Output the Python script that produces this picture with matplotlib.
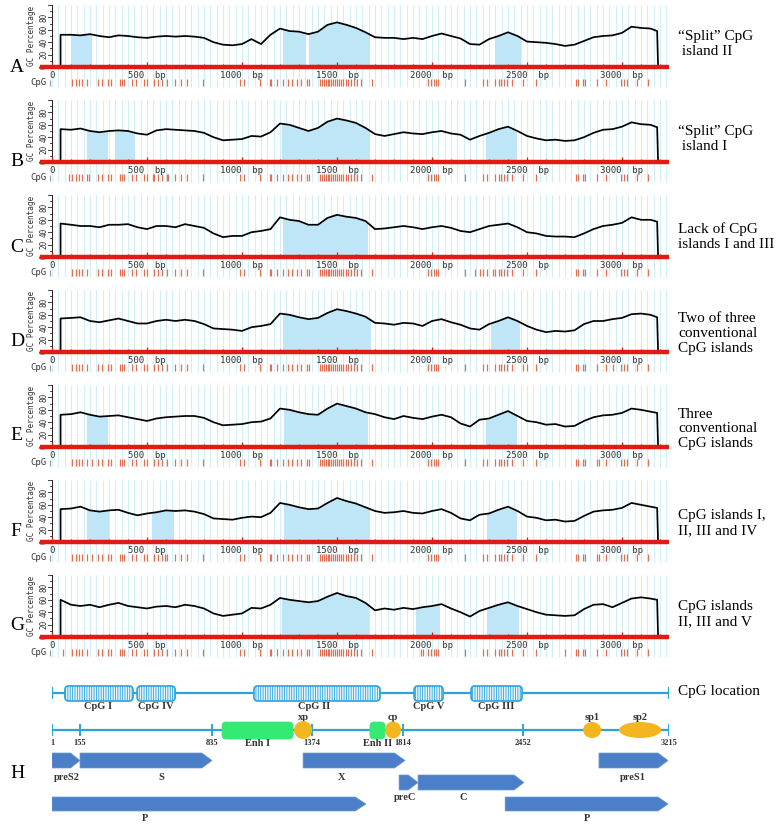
import matplotlib
matplotlib.use('Agg')
import matplotlib.pyplot as plt
import numpy as np
from matplotlib.patches import Rectangle, Ellipse, FancyBboxPatch, Polygon

plt.rcParams['hatch.linewidth'] = 0.6

# ---------------- data ----------------
panels = ['A', 'B', 'C', 'D', 'E', 'F', 'G']

# window centres (bp) of the GC% sliding window
gc_pos = [45] + list(range(100, 3151, 50)) + [3185]

gc_A = [52, 52, 51, 53, 50, 48, 51, 50, 48, 47, 49, 50, 49, 50, 49, 47, 40, 36, 35, 37,
        45, 37, 52, 62, 58, 57, 53, 57, 68, 72, 68, 63, 56, 48, 47, 47, 45, 47, 45, 50,
        54, 50, 46, 37, 36, 45, 50, 56, 50, 41, 40, 39, 37, 34, 36, 42, 48, 50, 51, 55,
        65, 63, 62, 58]
gc_B = [53, 52, 54, 50, 48, 50, 51, 50, 46, 44, 51, 53, 52, 51, 50, 47, 40, 35, 36, 37,
        42, 41, 48, 62, 60, 55, 50, 55, 65, 70, 67, 63, 55, 45, 42, 45, 48, 46, 45, 48,
        50, 46, 44, 36, 42, 47, 53, 57, 50, 42, 38, 35, 36, 34, 35, 40, 47, 52, 53, 57,
        64, 61, 60, 56]
gc_C = [54, 52, 50, 50, 48, 52, 52, 53, 48, 45, 50, 50, 48, 53, 50, 47, 38, 32, 34, 34,
        40, 42, 45, 64, 60, 58, 52, 52, 63, 68, 65, 63, 58, 45, 46, 48, 50, 48, 45, 48,
        50, 47, 42, 40, 45, 50, 52, 54, 48, 40, 38, 34, 33, 33, 32, 38, 45, 50, 52, 55,
        64, 60, 60, 57]
gc_D = [54, 55, 56, 50, 48, 51, 54, 50, 46, 46, 50, 52, 50, 52, 50, 45, 38, 37, 36, 34,
        40, 42, 45, 62, 60, 56, 53, 55, 63, 69, 66, 62, 57, 47, 46, 44, 47, 46, 42, 50,
        53, 48, 44, 38, 36, 45, 50, 56, 50, 42, 36, 32, 34, 33, 35, 45, 50, 50, 53, 55,
        61, 62, 60, 56]
gc_E = [52, 53, 56, 52, 49, 50, 51, 48, 45, 42, 46, 48, 49, 50, 50, 47, 40, 35, 36, 37,
        40, 41, 46, 62, 60, 56, 53, 52, 62, 70, 66, 62, 56, 53, 48, 45, 50, 47, 45, 49,
        52, 48, 38, 33, 44, 46, 52, 58, 50, 42, 40, 36, 37, 33, 34, 42, 48, 51, 52, 55,
        62, 60, 57, 55]
gc_F = [53, 54, 57, 51, 49, 51, 52, 47, 43, 46, 48, 51, 50, 51, 49, 45, 38, 37, 36, 39,
        41, 40, 47, 63, 60, 56, 53, 54, 63, 71, 66, 62, 56, 50, 47, 48, 50, 47, 46, 50,
        53, 47, 38, 35, 44, 46, 52, 57, 50, 41, 39, 35, 36, 33, 34, 42, 49, 51, 52, 55,
        63, 60, 57, 55]
gc_G = [60, 52, 50, 52, 48, 52, 55, 50, 48, 46, 49, 50, 48, 52, 50, 46, 38, 34, 36, 38,
        47, 46, 52, 63, 60, 58, 56, 58, 65, 71, 66, 63, 55, 43, 46, 44, 47, 45, 48, 50,
        53, 46, 40, 33, 42, 47, 52, 56, 50, 45, 40, 36, 35, 34, 35, 45, 52, 53, 48, 55,
        62, 64, 62, 60]
gc_values = [gc_A, gc_B, gc_C, gc_D, gc_E, gc_F, gc_G]

# shaded CpG islands (start, end) in bp
islands = [
    [(100, 205), (1216, 1333), (1350, 1671), (2333, 2462)],
    [(186, 288), (329, 432), (1212, 1667), (2286, 2444)],
    [(1218, 1660)],
    [(1218, 1675), (2308, 2457)],
    [(182, 288), (1222, 1660), (2286, 2444)],
    [(182, 293), (528, 635), (1222, 1667), (2290, 2444)],
    [(1211, 1664), (1917, 2038), (2290, 2451)],
]

# CpG dinucleotide sites (bp)
cpg_common = [107, 124, 141, 160, 182, 244, 265, 293, 308, 357, 368, 378, 421, 442, 485,
              500, 538, 560, 581, 603, 645, 677, 709, 795, 987, 1009, 1094, 1147, 1154,
              1186, 1218, 1244, 1265, 1291, 1308, 1340, 1350, 1410, 1420, 1430, 1440,
              1452, 1460, 1470, 1480, 1492, 1500, 1510, 1520, 1530, 1545, 1560, 1575,
              1590, 1605, 1628, 1682, 1981, 1995, 2008, 2020, 2034, 2173, 2269, 2291,
              2333, 2350, 2365, 2380, 2395, 2419, 2479, 2547, 2756, 2771, 2793, 2803,
              2868, 2915, 2996, 3013, 3028, 3081, 3135]
cpg_extra = [[], [90, 197, 529, 613], [2227, 2250, 2320], [2500, 2950],
             [210, 2880], [210, 595, 2880], [60, 1941, 1955, 2700]]

annotations = ['\u201cSplit\u201d CpG\n island II', '\u201cSplit\u201d CpG\n island I',
               'Lack of CpG\nislands I and III', 'Two of three\nconventional\nCpG islands',
               'Three\nconventional\nCpG islands', 'CpG islands I,\nII, III and IV',
               'CpG islands\nII, III and V']

# panel H
map_ticks = [1, 155, 835, 1374, 1814, 2452, 3215]
cpg_boxes = [('CpG I', 72, 428), ('CpG IV', 449, 645), ('CpG II', 1061, 1703),
             ('CpG V', 1873, 2027), ('CpG III', 2176, 2447)]
enhancers = [('Enh I', 889, 1272), ('Enh II', 1654, 1727)]
promoters = [('xp', 1326, 97, 18), ('cp', 1766, 77, 17), ('sp1', 2813, 94, 16),
             ('sp2', 3064, 220, 16)]
genes = [('preS2', 1, 155, 0, 85), ('S', 155, 835, 0, 573), ('X', 1326, 1825, 0, 1519),
         ('preS1', 2849, 3210, 0, 3027), ('preC', 1795, 1894, 1, 1825),
         ('C', 1894, 2457, 1, 2133), ('P', 1, 1635, 2, 490), ('P', 2357, 3210, 2, 2787)]

# ---------------- layout ----------------
W, H = 778, 825
fig = plt.figure(figsize=(W / 100, H / 100), dpi=100)
serif = 'Liberation Serif'
mono = 'DejaVu Sans Mono'


def px_axes(x0, y0, x1, y1):
    return fig.add_axes([x0 / W, 1 - y1 / H, (x1 - x0) / W, (y1 - y0) / H])


red_y = [67, 162, 257, 352, 447, 542, 637]
letter_y = [67, 161, 248, 342, 436, 531, 625]
note_y = [44, 139, 237, 334, 429, 523, 614]
PX = 0.62      # px per GC %
BP = 0.19      # px per bp

for i, name in enumerate(panels):
    ry = red_y[i]
    ax = px_axes(40, ry - 64, 669, ry + 22)
    ax.set_xlim(-12 / BP, 617 / BP)
    ax.set_ylim(-22 / PX, 64 / PX)
    ax.set_axis_off()

    # light stripes
    ax.vlines(np.arange(0, 3235, 100 / 3), -33, 100, color='#d0eff7', lw=0.8, zorder=0)

    # curve and islands
    x = np.r_[gc_pos[0], gc_pos, gc_pos[-1] + 5]
    y = np.r_[0, gc_values[i], 0]
    for a, b in islands[i]:
        poly = ax.fill_between(x, 0, y, color='#bfe6f6', lw=0, zorder=1)
        poly.set_clip_path(Rectangle((a, 0), b - a, 100, transform=ax.transData))
    ax.plot(x, y, color='black', lw=1.25, zorder=4)

    # y axis
    ax.plot([0, 0], [0, 100], color='#222', lw=0.7, zorder=3, clip_on=False)
    for v in range(0, 101, 10):
        tl = 4 if v % 20 == 0 else 2
        ax.plot([-tl / BP, 0], [v, v], color='#222', lw=0.6, clip_on=False)
    for v in range(0, 81, 20):
        ax.text(-8 / BP, v, str(v), rotation=90, ha='center', va='center',
                fontsize=5.5, color='#333', family=mono)
    ax.text(-21 / BP, 50, 'GC Percentage', rotation=90, ha='center', va='center',
            fontsize=5.5, color='#333', family=mono)

    # red base line with ticks
    ax.plot([-12 / BP, 617 / BP], [0, 0], color='#e21b12', lw=3.2,
            solid_capstyle='butt', zorder=5)
    ticks = np.arange(0, 3201, 100)
    ax.vlines(ticks, 0, np.where(ticks % 500 == 0, 8, 5), color='#e21b12', lw=0.9, zorder=5)
    for v in range(0, 3001, 500):
        ax.text(v, -13, '0' if v == 0 else f'{v}  bp', ha='center', va='center',
                fontsize=6.5, color='#333', family=mono)

    # CpG sites
    sites = cpg_common + cpg_extra[i]
    ax.vlines(sites, -31, -20, color='#e27050', lw=0.9, zorder=2)
    ax.text(-27, -25.5, 'CpG', ha='right', va='center', fontsize=6.5, color='#333',
            family=mono)
    ax.vlines([-10], -31, -21, color='#999', lw=0.8)

    fig.text(10 / W, 1 - letter_y[i] / H, name, fontsize=14, family=serif, va='center')
    fig.text(678 / W, 1 - note_y[i] / H, annotations[i], fontsize=11, family=serif,
             va='center', ha='left', linespacing=1.2)

# ---------------- panel H ----------------
map_px = [52, 80, 212, 312, 403, 523, 669]
axH = px_axes(52, 680, 669, 825)
axH.set_xscale('function', functions=(lambda v: np.interp(v, map_ticks, map_px),
                                      lambda p: np.interp(p, map_px, map_ticks)))
axH.set_xlim(1, 3215)
axH.set_ylim(825, 680)
axH.set_axis_off()
line_c = '#2ba4d9'
bold = dict(family=serif, fontweight='bold', color='#333')

axH.plot([1, 3215], [693, 693], color=line_c, lw=1.6, zorder=1)
axH.vlines([1, 3215], 687, 699, color=line_c, lw=1.6)
for lab, a, b in cpg_boxes:
    box = FancyBboxPatch((a, 686), b - a, 15, boxstyle='round,pad=0,rounding_size=20',
                         mutation_aspect=0.2, facecolor='#e4f4fc', edgecolor=line_c,
                         hatch='|||||||', lw=1.2, zorder=2)
    axH.add_patch(box)
    axH.text((a + b) / 2, 706, lab, ha='center', va='center', fontsize=7.5, **bold)

axH.plot([1, 3215], [730, 730], color=line_c, lw=1.6, zorder=1)
axH.vlines(map_ticks, 724, 736, color=line_c, lw=1.4)
for t in map_ticks:
    axH.text(t, 743, str(t), ha='center', va='center', fontsize=6, **bold)
for lab, a, b in enhancers:
    axH.add_patch(FancyBboxPatch((a, 722), b - a, 17, boxstyle='round,pad=0,rounding_size=20',
                                 mutation_aspect=0.2, facecolor='#33ea72',
                                 edgecolor='#33ea72', lw=0.5, zorder=3))
    axH.text((a + b) / 2, 743, lab, ha='center', va='center', fontsize=7.5, **bold)
for lab, c, w, h in promoters:
    axH.add_patch(Ellipse((c, 730), w, h, facecolor='#f3b61f', edgecolor='none', zorder=4))
    axH.text(c, 717, lab, ha='center', va='center', fontsize=7.5, **bold)

row_y = [(753, 768), (775, 790), (797, 811)]
lab_y = [777, 797, 818]
for lab, a, b, r, lx in genes:
    y0, y1 = row_y[r]
    head = 52
    pts = [(a, y0), (b - head, y0), (b, (y0 + y1) / 2), (b - head, y1), (a, y1)]
    axH.add_patch(Polygon(pts, closed=True, facecolor='#4b80c9', edgecolor='#6d98d4',
                          lw=0.5, zorder=2))
    axH.text(lx, lab_y[r], lab, ha='center', va='center', fontsize=7.5, **bold)

fig.text(10 / W, 1 - 773 / H, 'H', fontsize=14, family=serif, va='center')
fig.text(678 / W, 1 - 691 / H, 'CpG location', fontsize=11, family=serif, va='center')

fig.savefig('out.png', dpi=100)
